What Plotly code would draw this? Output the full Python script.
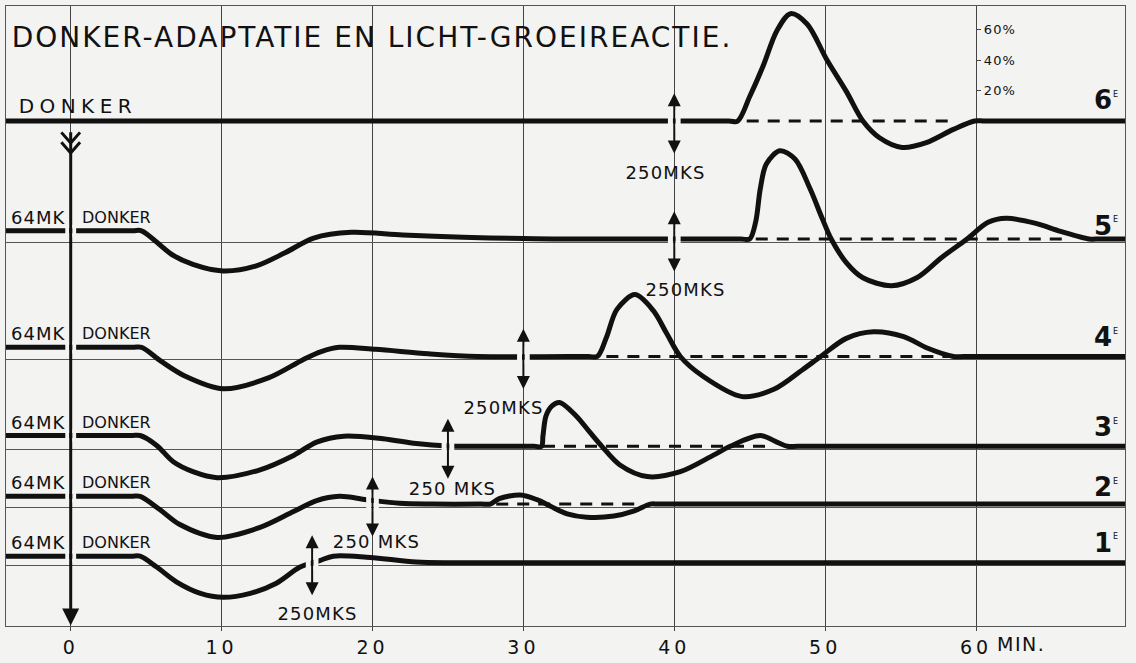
import json
import plotly.graph_objects as go

# ---------------- data ----------------
# time in minutes after the start of darkness, growth deviation in %
t_row1 = [-4.3, 4.0, 4.6, 5.7, 7.0, 8.6, 10.1, 11.9, 13.6, 15.2, 16.5, 17.4, 19.6, 22.9, 25.0, 26.0, 69.9]
d_row1 = [4.35, 4.35, 4.35, -2.8, -12.5, -20.1, -22.7, -20.1, -13.6, -2.8, 1.5, 4.35, 3.7, 0.5, 0.0, 0.0, 0.0]

t_row2 = [-4.3, 4.0, 4.6, 5.9, 7.2, 9.7, 12.5, 14.8, 16.3, 17.8, 19.6, 21.8, 24.0, 27.2, 27.8, 28.4, 29.8,
          30.9, 31.8, 32.9, 34.2, 36.0, 37.3, 38.4, 39.0, 69.9]
d_row2 = [5.1, 5.1, 5.1, -3.6, -13.3, -21.9, -15.5, -4.7, 2.3, 5.1, 2.9, 0.5, 0.0, 0.0, 0.0, 3.6, 5.9,
          2.9, -1.4, -6.4, -8.6, -7.9, -4.7, 0.0, 0.0, 0.0]

t_row3 = [-4.3, 4.0, 4.6, 5.7, 6.8, 8.1, 9.7, 12.5, 14.8, 16.3, 18.1, 20.7, 22.9, 25.0, 27.0, 30.7, 31.2,
          31.3, 31.5, 31.9, 32.4, 33.5, 34.4, 35.2, 36.4, 38.2, 40.4, 42.6, 43.7, 45.7, 46.8, 47.5, 48.2, 69.9]
d_row3 = [7.1, 7.1, 7.1, 0.6, -10.2, -16.7, -20.6, -15.6, -5.8, 2.8, 6.7, 5.0, 1.8, 0.2, 0.0, 0.0, 0.0,
          7.0, 20.0, 26.6, 28.8, 20.0, 9.3, 0.0, -12.3, -19.9, -16.7, -5.8, 0.0, 7.1, 2.8, 0.0, 0.0, 0.0]

t_row4 = [-4.3, 4.1, 4.7, 6.0, 7.6, 10.1, 13.1, 15.4, 16.6, 17.8, 20.2, 23.7, 27.0, 34.3, 34.9, 35.5,
          36.2, 37.4, 38.6, 39.5, 40.4, 41.9, 44.5, 46.6, 48.5, 49.7, 51.4, 53.2, 55.2, 56.8, 58.5, 59.2, 69.9]
d_row4 = [6.0, 6.0, 6.0, -3.2, -13.0, -21.2, -14.1, -2.1, 3.2, 6.0, 4.7, 1.8, 0.0, 0.0, 0.0, 12.5,
          31.0, 40.7, 30.3, 15.1, 0.0, -13.0, -26.4, -21.6, -8.7, 0.0, 11.9, 16.2, 13.0, 5.4, 0.0, 0.0, 0.0]

t_row5 = [-4.3, 4.1, 4.7, 6.7, 8.1, 10.1, 12.3, 14.2, 16.1, 18.6, 22.0, 26.0, 30.0, 32.0, 44.4, 45.0,
          45.4, 45.7, 46.1, 47.0, 48.0, 49.0, 49.8, 50.4, 51.4, 52.5, 54.4, 56.1, 57.7, 59.4, 60.8, 62.0,
          63.9, 65.6, 67.5, 68.2, 69.9]
d_row5 = [5.4, 5.4, 5.4, -10.2, -16.7, -21.0, -17.7, -9.1, 0.6, 4.4, 2.6, 1.1, 0.3, 0.0, 0.0, 0.0,
          11.5, 33.0, 49.4, 58.0, 52.6, 33.0, 13.6, 0.0, -15.5, -25.5, -30.7, -25.3, -12.3, 0.0, 11.0, 13.6,
          10.4, 5.0, 0.0, 0.0, 0.0]

t_row6 = [-4.3, 43.6, 44.2, 45.0, 45.9, 46.8, 47.7, 48.8, 50.1, 51.4, 52.5, 53.6, 55.1, 56.7, 58.5, 59.9, 60.6, 69.9]
d_row6 = [0.0, 0.0, 0.0, 16.1, 36.5, 59.4, 70.6, 63.8, 40.5, 19.5, 0.0, -11.0, -17.4, -14.2, -5.5, 0.0, 0.0, 0.0]

predark_level = [4.35, 5.1, 7.1, 6.0, 5.4, None]        # level under 64 MK before darkness
stim_time = [16, 20, 25, 30, 40, 40]                    # moment of 250 MKS light stimulus
stim_label = ["250MKS", "250 MKS", "250 MKS", "250MKS", "250MKS", "250MKS"]
dash_start = [None, 28.2, 31.3, 35.5, 45.4, 44.8]        # dashed reference (no reaction) line
dash_end = [None, 37.8, 46.3, 58.2, 66.0, 58.7]
row_names = ["1", "2", "3", "4", "5", "6"]
pct_ticks = [20, 40, 60]
pct_text = ["20%", "40%", "60%"]
x_ticks = [0, 10, 20, 30, 40, 50, 60]
x_ticktext = ["0", "10", "20", "30", "40", "50", "60"]
dark_start = 0

T = [t_row1, t_row2, t_row3, t_row4, t_row5, t_row6]
D = [d_row1, d_row2, d_row3, d_row4, d_row5, d_row6]

# ---------------- layout constants ----------------
W, H = 1136, 663
XMIN, XMAX = -4.288, 69.87
YMAX = 407.8
row_base = [41.56, 80.19, 118.18, 177.27, 254.55, 332.14]   # vertical offset of each row
ARROW_UP, ARROW_DOWN = 18.2, 21.4
BG = "#f3f3f1"
INK = "#111111"
GRID = "#444444"
FONT = "DejaVu Sans"
label_dx = [5, 4.5, 5, -20, 11, -9]
label_dy = [-51, -37.5, -42, -51, -51, -51]
num_dy = [20, 17, 19, 19, 13, 21]
PLOT_W = W - 6 - 11

fig = go.Figure()

for i in range(6):
    b = row_base[i]
    fig.add_trace(go.Scatter(
        x=T[i], y=[b + v for v in D[i]], mode="lines",
        line=dict(color=INK, width=5, shape="spline", smoothing=0.9),
        hoverinfo="skip", showlegend=False))

# dashed "no reaction" reference lines (on the overlaid percent axis, same scale)
for i in range(6):
    if dash_start[i] is not None:
        b = row_base[i]
        fig.add_trace(go.Scatter(
            x=[dash_start[i], dash_end[i]], y=[b, b], mode="lines", yaxis="y2",
            line=dict(color=INK, width=3, dash="12px,9px"),
            hoverinfo="skip", showlegend=False))

# darkness arrow: fletched tail, shaft and head
fl_top = YMAX - 128 / 1.54
fig.add_trace(go.Scatter(
    x=[dark_start - 0.62, dark_start, dark_start + 0.62, None,
       dark_start - 0.62, dark_start, dark_start + 0.62, None,
       dark_start, dark_start],
    y=[fl_top, fl_top - 7.0, fl_top, None,
       fl_top - 6.5, fl_top - 13.5, fl_top - 6.5, None,
       fl_top, 8.0],
    mode="lines", line=dict(color=INK, width=3), hoverinfo="skip", showlegend=False))
fig.add_trace(go.Scatter(
    x=[dark_start], y=[0.4], mode="markers",
    marker=dict(symbol="arrow-down", size=17, color=INK, line=dict(width=0)),
    hoverinfo="skip", showlegend=False))

# double-headed stimulus arrows
sx, sy = [], []
for i in range(6):
    b = row_base[i]
    sx += [stim_time[i], stim_time[i], None]
    sy += [b - ARROW_DOWN + 4, b + ARROW_UP - 4, None]
fig.add_trace(go.Scatter(x=sx, y=sy, mode="lines", line=dict(color=INK, width=2),
                         hoverinfo="skip", showlegend=False))
fig.add_trace(go.Scatter(
    x=stim_time, y=[row_base[i] + ARROW_UP for i in range(6)], mode="markers",
    marker=dict(symbol="arrow-up", size=13, color=INK, line=dict(width=0)),
    hoverinfo="skip", showlegend=False))
fig.add_trace(go.Scatter(
    x=stim_time, y=[row_base[i] - ARROW_DOWN for i in range(6)], mode="markers",
    marker=dict(symbol="arrow-down", size=13, color=INK, line=dict(width=0)),
    hoverinfo="skip", showlegend=False))

shapes = []


def gap(xc, half, keep, y0, y1):
    # two background patches either side of an arrow shaft -> gap in the thick line
    for a, c in ((xc - half, xc - keep), (xc + keep, xc + half)):
        shapes.append(dict(type="rect", xref="x", yref="y", layer="above",
                           x0=a, x1=c, y0=y0, y1=y1, fillcolor=BG, line=dict(width=0)))


for i in range(6):
    b = row_base[i]
    gap(stim_time[i], 0.42, 0.09, b - 5, b + 7)
    if predark_level[i] is not None:
        lv = b + predark_level[i]
        gap(dark_start, 0.36, 0.11, lv - 4, lv + 4)

annotations = []
spacing = []


def add_ann(sp, **kw):
    annotations.append(kw)
    spacing.append(sp)


for i in range(6):
    b = row_base[i]
    add_ann(1.2, x=stim_time[i], y=b, xref="x", yref="y", text=stim_label[i], showarrow=False,
            xshift=label_dx[i], yshift=label_dy[i], font=dict(family=FONT, size=18, color=INK))
    if predark_level[i] is not None:
        lv = b + predark_level[i]
        add_ann(1, x=dark_start, y=lv, xref="x", yref="y", text="64MK", showarrow=False,
                xshift=-32.7, yshift=13.5, font=dict(family=FONT, size=18, color=INK))
        add_ann(0, x=dark_start, y=lv, xref="x", yref="y", text="DONKER", showarrow=False,
                xshift=45.5, yshift=13.5, font=dict(family=FONT, size=16, color=INK))
    add_ann(0, x=(1092 - 6) / PLOT_W, y=b, xref="paper", yref="y", xanchor="left",
            text=row_names[i], showarrow=False, yshift=num_dy[i],
            font=dict(family=FONT, size=26, color=INK, weight="bold"))
    add_ann(0, x=(1111 - 6) / PLOT_W, y=b, xref="paper", yref="y", xanchor="left",
            text="E", showarrow=False, yshift=num_dy[i] + 6,
            font=dict(family=FONT, size=8, color=INK))

# top row darkness label
add_ann(5.4, x=dark_start, y=row_base[5], xref="x", yref="y", text="DONKER", showarrow=False,
        xshift=7.7, yshift=15.5, font=dict(family=FONT, size=20, color=INK))
# unit after the last tick
add_ann(1.5, x=63.0, y=-18 / 628, xref="x", yref="paper", text="MIN.", showarrow=False,
        yanchor="middle", font=dict(family=FONT, size=19, color=INK))

pct_pos = (60 - XMIN) / (XMAX - XMIN)

fig.update_layout(
    width=W, height=H,
    margin=dict(l=6, r=11, t=5, b=30, pad=0),
    paper_bgcolor=BG, plot_bgcolor=BG,
    showlegend=False,
    title=dict(text="DONKER-ADAPTATIE EN LICHT-GROEIREACTIE.", x=372 / W, y=1 - 36.7 / H,
               xref="container", yref="container", xanchor="center", yanchor="middle",
               font=dict(family=FONT, size=28, color=INK)),
    xaxis=dict(range=[XMIN, XMAX], tickvals=x_ticks, ticktext=x_ticktext,
               ticks="outside", ticklen=4, tickcolor=GRID, tickwidth=1,
               showgrid=True, gridcolor=GRID, gridwidth=1, zeroline=False,
               showline=True, linecolor="#555555", linewidth=1, mirror=True,
               tickfont=dict(family=FONT, size=19, color=INK), fixedrange=True),
    yaxis=dict(range=[0, YMAX], tickvals=[b - 2 for b in row_base[:5]], showticklabels=False,
               ticks="", showgrid=True, gridcolor="#555555", gridwidth=1, zeroline=False,
               showline=True, linecolor="#555555", linewidth=1, mirror=True, fixedrange=True),
    yaxis2=dict(range=[0, YMAX], overlaying="y", anchor="free", position=pct_pos, side="right",
                tickvals=[row_base[5] + p for p in pct_ticks], ticktext=pct_text,
                ticks="outside", ticklen=4, tickcolor=GRID, showgrid=False, zeroline=False,
                showline=False, tickfont=dict(family=FONT, size=13, color=INK), fixedrange=True),
    shapes=shapes,
    annotations=annotations,
)

post = """
document.body.style.margin = '0';
document.documentElement.style.overflow = 'hidden';
var gd = document.querySelector('.js-plotly-plot');
var SP = %s;
gd.querySelectorAll('g.annotation').forEach(g => g.querySelectorAll('text').forEach(t => t.style.letterSpacing = (SP[+g.getAttribute('data-index')] || 0) + 'px'));
gd.querySelectorAll('.xtick text').forEach(t => t.style.letterSpacing = '4px');
gd.querySelectorAll('.y2tick text').forEach(t => t.style.letterSpacing = '1.2px');
gd.querySelectorAll('.gtitle').forEach(t => t.style.letterSpacing = '2.0px');
""" % json.dumps(spacing)

fig.write_html("out.html", post_script=post, config={"displayModeBar": False})
